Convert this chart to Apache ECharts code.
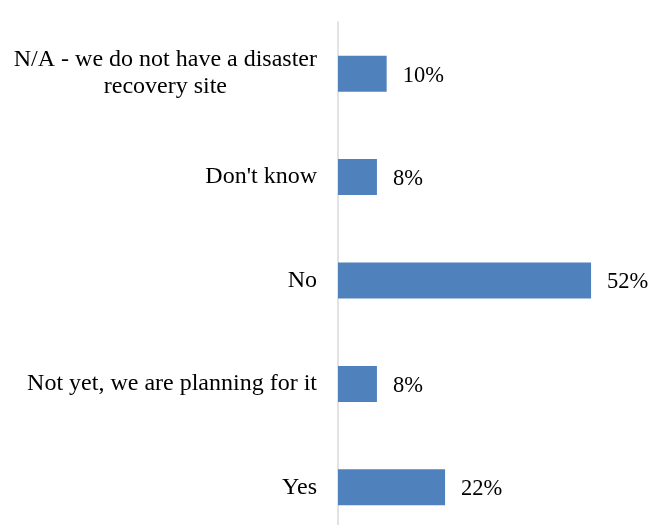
<!DOCTYPE html>
<html>
<head>
<meta charset="utf-8">
<script src="https://cdn.jsdelivr.net/npm/echarts@6/dist/echarts.min.js"></script>
<style>
  html, body { margin: 0; padding: 0; background: #fff; }
  #chart { width: 661px; height: 525px; }
</style>
</head>
<body>
<div id="chart"></div>
<script>
// Survey answers, listed bottom to top as drawn on the category axis
const categories = [
  'Yes',
  'Not yet, we are planning for it',
  'No',
  "Don't know",
  'N/A - we do not have a disaster\nrecovery site'
];
const shares = [22, 8, 52, 8, 10];

const chart = echarts.init(document.getElementById('chart'), null, { renderer: 'canvas' });
const font = '"Liberation Serif", "Times New Roman", serif';

chart.setOption({
  animation: false,
  grid: { left: 338, top: 22, width: 292, height: 517, outerBoundsMode: 'none', containLabel: false },
  xAxis: {
    type: 'value',
    min: 0,
    max: 60,
    show: false
  },
  yAxis: {
    type: 'category',
    data: categories,
    axisLine: { show: true, lineStyle: { color: '#d9d9d9', width: 1.5 } },
    axisTick: { show: false },
    axisLabel: {
      color: '#000',
      fontFamily: font,
      fontSize: 24,
      margin: 21,
      align: 'right',
      lineHeight: 27,
      // wrapped labels: block sits right against the axis, lines centred inside it
      formatter: v => v.split('\n').map(s => '{c|' + s + '}').join('\n'),
      rich: {
        c: { align: 'center', fontFamily: font, fontSize: 24, lineHeight: 27, color: '#000' }
      }
    }
  },
  series: [{
    type: 'bar',
    data: shares,
    barWidth: 36,
    itemStyle: { color: '#4f81bd' },
    label: {
      show: true,
      position: 'right',
      distance: 16,
      offset: [0, 2],
      formatter: p => p.value + '%',
      color: '#000',
      fontFamily: font,
      fontSize: 22.5
    }
  }]
});
</script>
</body>
</html>
